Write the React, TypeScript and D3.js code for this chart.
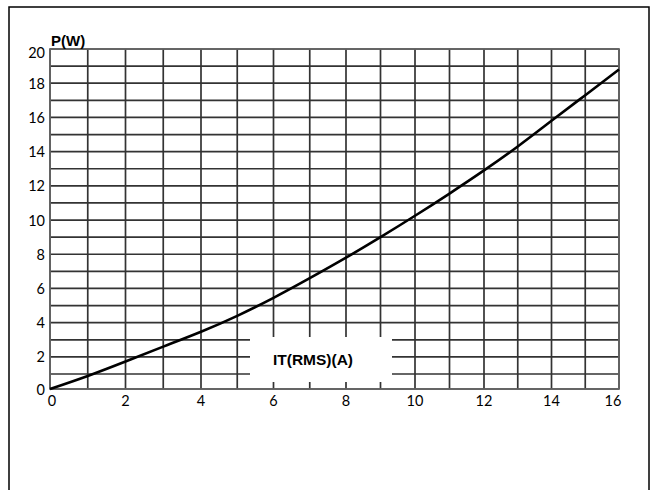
import React from "react";
import * as d3 from "d3";

const currentA = [0, 1, 2, 3, 4, 5, 6, 7, 8, 9, 10, 11, 12, 13, 14, 15, 16];
const powerW = [0, 0.87, 1.73, 2.6, 3.47, 4.4, 5.45, 6.6, 7.8, 9.0, 10.25, 11.55, 12.9, 14.3, 15.8, 17.3, 18.8];
const xTicks = [0, 2, 4, 6, 8, 10, 12, 14, 16];
const yTicks = [0, 2, 4, 6, 8, 10, 12, 14, 16, 18, 20];
const xGrid = d3.range(0, 17, 1);
const yGrid = d3.range(0, 21, 1);
const yTitle = "P(W)";
const xTitle = "IT(RMS)(A)";

export default function App() {
  const x = d3.scaleLinear().domain([0, 4, 8, 12, 16]).range([50, 201, 346, 484, 619]);
  const y = d3.scaleLinear().domain([0, 1, 20]).range([389, 374, 49]);
  const line = d3
    .line<number>()
    .x((_, i) => x(currentA[i]))
    .y((d) => y(d))
    .curve(d3.curveNatural);
  const box = { x0: 250, x1: 392, y0: 337, y1: 382 };
  const numFont = "Lato, 'Open Sans', sans-serif";
  const boldFont = "'Liberation Sans', Arial, sans-serif";
  return (
    <svg
      width={654}
      height={490}
      style={{ position: "absolute", left: 0, top: 0, background: "#fff" }}
    >
      <rect x={9} y={7} width={640} height={500} fill="#fff" stroke="#000" strokeWidth={1.5} />
      {yGrid.map((v) => (
        <line key={"h" + v} x1={x(0)} x2={x(16)} y1={y(v)} y2={y(v)} stroke="#333" strokeWidth={1.7} />
      ))}
      {xGrid.map((v) => (
        <line key={"v" + v} x1={x(v)} x2={x(v)} y1={y(0)} y2={y(20)} stroke="#333" strokeWidth={1.7} />
      ))}
      <rect x={x(0)} y={y(20)} width={x(16) - x(0)} height={y(0) - y(20)} fill="none" stroke="#666" strokeWidth={1.7} />
      <rect x={box.x0} y={box.y0} width={box.x1 - box.x0} height={box.y1 - box.y0} fill="#fff" />
      <path d={line(powerW) || ""} fill="none" stroke="#000" strokeWidth={2.6} />
      {xTicks.map((v, i) => (
        <text
          key={"xt" + v}
          x={i === xTicks.length - 1 ? x(v) - 6 : x(v) + (i === 0 ? 2 : 0)}
          y={406}
          textAnchor="middle"
          fontFamily={numFont}
          fontSize={14.5}
          fill="#000"
        >
          {v}
        </text>
      ))}
      {yTicks.map((v, i) => (
        <text
          key={"yt" + v}
          x={45}
          y={i === yTicks.length - 1 ? y(v) + 8.5 : y(v) + 5.5}
          textAnchor="end"
          fontFamily={numFont}
          fontSize={14.5}
          fill="#000"
        >
          {v}
        </text>
      ))}
      <text x={51} y={46} fontFamily={boldFont} fontWeight="bold" fontSize={15} fill="#000">
        {yTitle}
      </text>
      <text x={313} y={365} textAnchor="middle" fontFamily={boldFont} fontWeight="bold" fontSize={15.5} fill="#000">
        {xTitle}
      </text>
    </svg>
  );
}
